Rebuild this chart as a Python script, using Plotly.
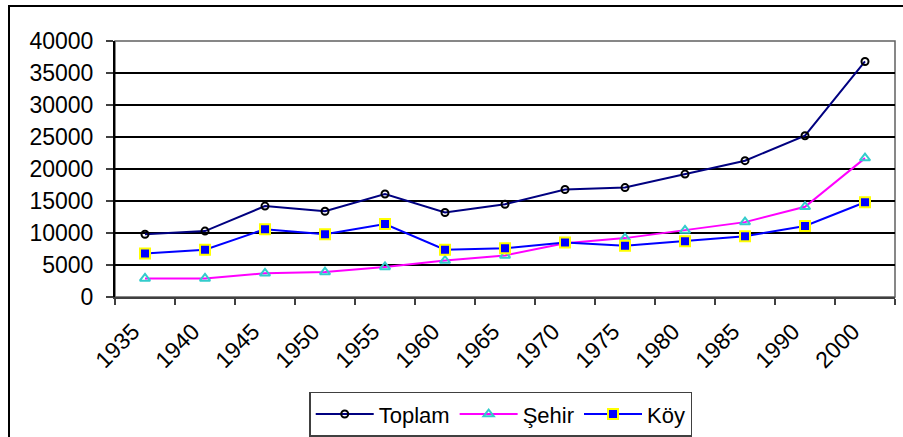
import plotly.graph_objects as go

years = ["1935", "1940", "1945", "1950", "1955", "1960", "1965",
         "1970", "1975", "1980", "1985", "1990", "2000"]
toplam = [9800, 10300, 14200, 13400, 16100, 13200, 14500,
          16800, 17100, 19200, 21300, 25200, 36800]
sehir = [2900, 2900, 3700, 3900, 4700, 5700, 6500,
         8400, 9200, 10400, 11700, 14100, 21700]
koy = [6800, 7400, 10600, 9800, 11400, 7400, 7600,
       8500, 8000, 8700, 9500, 11100, 14800]

FONT = "Liberation Sans, Arial, sans-serif"

fig = go.Figure()
fig.add_trace(go.Scatter(
    x=years, y=toplam, name="Toplam", mode="lines+markers",
    line=dict(color="#000080", width=2),
    marker=dict(symbol="circle-open", size=7, color="black",
                line=dict(color="black", width=2))))
fig.add_trace(go.Scatter(
    x=years, y=sehir, name="Şehir", mode="lines+markers",
    line=dict(color="#FF00FF", width=2),
    marker=dict(symbol="triangle-up-open", size=9, color="#33CCCC",
                line=dict(color="#33CCCC", width=2))))
fig.add_trace(go.Scatter(
    x=years, y=koy, name="Köy", mode="lines+markers",
    line=dict(color="#0000FF", width=2),
    marker=dict(symbol="square", size=10, color="#0000FF",
                line=dict(color="#FFFF00", width=2))))

fig.update_layout(
    width=903, height=437,
    margin=dict(l=115, r=8, t=41, b=140, autoexpand=False),
    paper_bgcolor="white", plot_bgcolor="white",
    font=dict(family=FONT, size=22, color="black"),
    showlegend=True,
    legend=dict(orientation="h", x=0.249, y=-0.37, xanchor="left", yanchor="top",
                bordercolor="#404040", borderwidth=1.5,
                font=dict(family=FONT, size=22, color="black"),
                itemwidth=58, tracegroupgap=0),
    xaxis=dict(type="category", tickson="boundaries", automargin=False,
               showgrid=False, showline=True, linecolor="#404040", linewidth=2,
               ticks="outside", ticklen=6, tickcolor="#404040", tickwidth=2,
               tickangle=-45, tickfont=dict(family=FONT, size=23),
               ticklabelshift=-12, ticklabelstandoff=10, range=[-0.5, 12.5]),
    yaxis=dict(range=[0, 40000], dtick=5000, tickformat="d", automargin=False,
               showgrid=True, gridcolor="black", gridwidth=1.5,
               showline=True, linecolor="black", linewidth=2,
               ticks="outside", ticklen=7, tickcolor="#404040", tickwidth=2,
               ticklabelstandoff=8,
               tickfont=dict(family=FONT, size=23), zeroline=False),
)

# plot area border (top/right) and outer chart frame
fig.add_shape(type="rect", xref="paper", yref="paper", x0=0, x1=1, y0=0, y1=1,
              line=dict(color="#606060", width=1.5), layer="below")
fig.add_shape(type="rect", xref="paper", yref="paper",
              x0=(9 - 115) / 780, x1=(915 - 115) / 780,
              y0=(297 - 450) / 256, y1=(297 - 6) / 256,
              line=dict(color="black", width=2))

fig.write_html("out.html",
               config={"displayModeBar": False},
               post_script="document.body.style.margin='0';"
                           "document.body.style.overflow='hidden';")
